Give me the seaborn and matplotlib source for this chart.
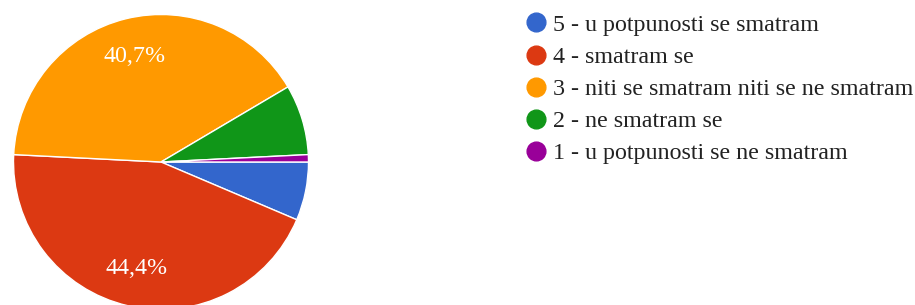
import matplotlib
matplotlib.use("Agg")
import matplotlib.pyplot as plt
from matplotlib.lines import Line2D
import seaborn as sns

sns.set_theme(style="white")
plt.rcParams['font.family'] = ['Liberation Serif', 'DejaVu Serif']

# answer shares in percent, legend order
labels = [
    "5 - u potpunosti se smatram",
    "4 - smatram se",
    "3 - niti se smatram niti se ne smatram",
    "2 - ne smatram se",
    "1 - u potpunosti se ne smatram",
]
shares = [6.4, 44.4, 40.7, 7.7, 0.8]
colors = sns.color_palette(["#3366cc", "#dc3912", "#ff9900", "#109618", "#990099"])

W, H = 915, 305
fig = plt.figure(figsize=(W / 100, H / 100), dpi=100)

# pie centre (161,162) px, radius ~147.5 px
cx, cy, r = 161, 162, 147.5
ax = fig.add_axes([(cx - r) / W, (H - cy - r) / H, 2 * r / W, 2 * r / H])


def fmt(pct):
    return f"{pct:.1f}%".replace(".", ",") if pct > 10 else ""


wedges, texts, autotexts = ax.pie(
    shares, colors=colors, startangle=0, counterclock=False,
    autopct=fmt, pctdistance=0.74, radius=1,
    wedgeprops=dict(edgecolor="white", linewidth=1),
    textprops=dict(color="white", fontsize=17.3),
)
ax.set_xlim(-1, 1)
ax.set_ylim(-1, 1)
ax.set_aspect("equal")
ax.axis("off")

handles = [Line2D([], [], linestyle="none", marker="o", markersize=13.5,
                  markerfacecolor=c, markeredgecolor=c) for c in colors]
fig.legend(handles, labels, loc="upper left",
           bbox_to_anchor=(524 / W, 1 - 14 / H),
           frameon=False, fontsize=17.3, handlelength=1.0, handletextpad=0.21,
           labelspacing=0.43, borderpad=0, borderaxespad=0,
           labelcolor="#222222")

fig.savefig("out.png", dpi=100)
